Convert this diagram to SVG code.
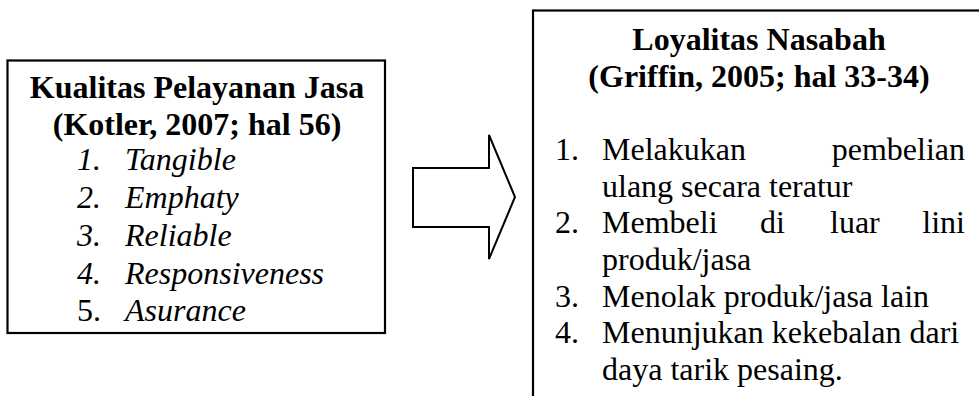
<svg xmlns="http://www.w3.org/2000/svg" width="979" height="396" viewBox="0 0 979 396">
<style>
.box{fill:#fff;stroke:#000;stroke-width:2.2}
.arrow{fill:#fff;stroke:#000;stroke-width:2}
text{font-family:"Liberation Serif","Times New Roman",serif;font-size:32px;fill:#000}
.b{font-weight:bold}
.i{font-style:italic}
.c{text-anchor:middle}
.e{text-anchor:end}
</style>
<rect width="979" height="396" fill="#fff"/>
<g id="node-kualitas">
<rect class="box" x="7.5" y="60.5" width="377.5" height="272.5"/>
<text class="b c" x="197" y="98">Kualitas Pelayanan Jasa</text>
<text class="b c" x="197" y="135">(Kotler, 2007; hal 56)</text>
<text class="i" x="77" y="170">1.</text><text class="i" x="125" y="170">Tangible</text>
<text class="i" x="77" y="208">2.</text><text class="i" x="125" y="208">Emphaty</text>
<text class="i" x="77" y="246">3.</text><text class="i" x="125" y="246">Reliable</text>
<text class="i" x="77" y="283.5">4.</text><text class="i" x="125" y="283.5">Responsiveness</text>
<text x="77" y="321">5.</text><text class="i" x="125" y="321">Asurance</text>
</g>
<g id="connectors">
<polygon class="arrow" points="413,168 489,168 489,135 515,197 489,259 489,227 413,227"/>
</g>
<g id="node-loyalitas">
<rect class="box" x="533" y="10.5" width="500" height="500"/>
<text class="b c" x="759" y="50">Loyalitas Nasabah</text>
<text class="b c" x="759" y="87">(Griffin, 2005; hal 33-34)</text>
<text x="555" y="160">1.</text><text x="602" y="160">Melakukan</text><text class="e" x="965" y="160">pembelian</text>
<text x="602" y="196.7">ulang secara teratur</text>
<text x="555" y="233.3">2.</text><text x="602" y="233.3">Membeli</text><text x="760" y="233.3">di</text><text x="830" y="233.3">luar</text><text class="e" x="965" y="233.3">lini</text>
<text x="602" y="270">produk/jasa</text>
<text x="555" y="306.7">3.</text><text x="602" y="306.7">Menolak produk/jasa lain</text>
<text x="555" y="343.3">4.</text><text x="602" y="343.3">Menunjukan kekebalan dari</text>
<text x="602" y="380">daya tarik pesaing.</text>
</g>
</svg>
